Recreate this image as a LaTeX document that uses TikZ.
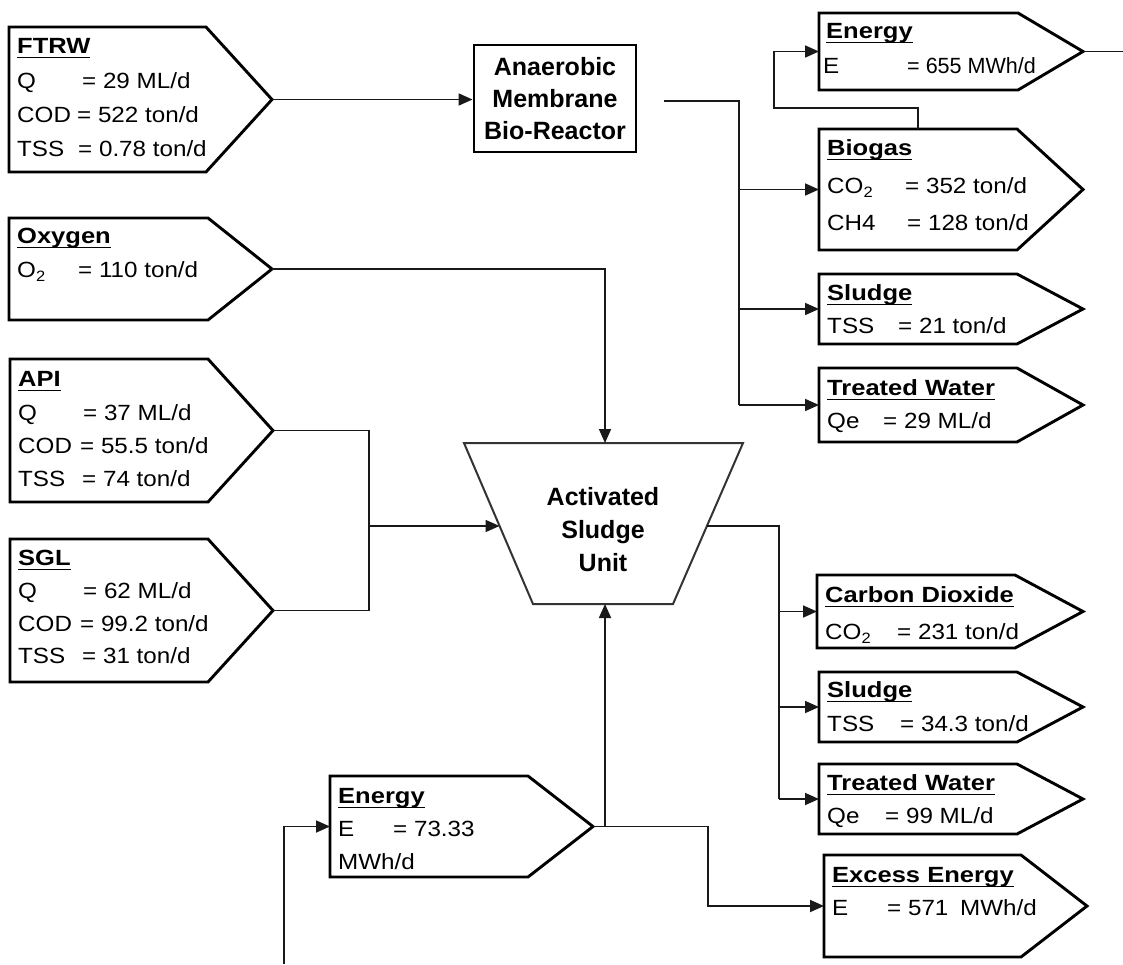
\documentclass[tikz,border=0pt]{standalone}
\usepackage{fontspec}
\usepackage{graphicx}
\setmainfont{Liberation Sans}
\newfontfamily\bodyf[FakeStretch=1.1]{Liberation Sans}
\newfontfamily\titf[FakeStretch=1.16]{Liberation Sans}
\usetikzlibrary{arrows.meta}
\newcommand\ttl[1]{\setbox0\hbox{\titf\bfseries #1}\rlap{\rule[-5pt]{\wd0}{1.5pt}}\box0}
\newcommand\sub[1]{\raisebox{-4pt}{\fontsize{15}{15}\selectfont #1}}
\newcommand\kv[3]{\makebox[#1pt][l]{#2}#3}
\newcommand\flowbox[6]{%
  \draw[boxln] (#2,#3) -- (#4,#3) -- (#5,{(#3+#6)/2}) -- (#4,#6) -- (#2,#6) -- cycle;
  \coordinate (#1-in) at (#2,{(#3+#6)/2});
  \coordinate (#1-tip) at (#5,{(#3+#6)/2});
}
\begin{document}
\begin{tikzpicture}[x=1pt,y=-1pt,
  boxln/.style={line width=2.9pt,line join=miter},
  conn/.style={line width=1.7pt,black!90},
  arr/.style={conn,-{Triangle[length=14pt,width=12pt]}},
  txt/.style={anchor=base west,inner sep=0pt,font=\bodyf\fontsize{22}{26}\selectfont},
  bold/.style={align=center,inner sep=0pt,font=\fontsize{25}{32}\selectfont\bfseries}]
\useasboundingbox (0,0) rectangle (1123,964);

% ---- boxes
\flowbox{ftrw}{9}{27}{206}{272}{172}
\flowbox{oxy}{9}{218}{208}{272}{320}
\flowbox{api}{10}{359}{208}{273}{502}
\flowbox{sgl}{10}{539}{208}{273}{682}
\flowbox{enA}{819}{13}{1018}{1083}{90}
\flowbox{bio}{819}{129}{1017}{1083}{250}
\flowbox{slA}{819}{274}{1017}{1083}{344}
\flowbox{twA}{819}{368}{1017}{1083}{442}
\flowbox{cod}{817}{575}{1015}{1083}{648}
\flowbox{slB}{819}{672}{1017}{1083}{742}
\flowbox{twB}{819}{764}{1017}{1083}{834}
\flowbox{exc}{824}{855}{1021}{1087}{957}
\flowbox{enB}{330}{776}{528}{593}{877}

\node[bold,draw,line width=2.9pt,minimum width=162pt,minimum height=107pt] (amb) at (555,98.5) {Anaerobic\\Membrane\\Bio-Reactor};

\draw[line width=2pt,black!80] (464,443) -- (743,443) -- (673,604) -- (533,604) -- cycle;
\node[bold,font=\fontsize{25}{33}\selectfont\bfseries] (asu) at (603,530) {Activated\\Sludge\\Unit};
\coordinate (asu-top) at (605,443);
\coordinate (asu-left) at (499.5,526);
\coordinate (asu-right) at (707,526);
\coordinate (asu-bot) at (605,604);

% ---- texts
\node[txt] (ftrw-t) at (17,53) {\ttl{FTRW}};
\node[txt] (ftrw-1) at (17,88) {\kv{65}{Q}{= 29 ML/d}};
\node[txt] (ftrw-2) at (17,122) {\kv{60}{COD}{= 522 ton/d}};
\node[txt] (ftrw-3) at (17,156) {\kv{61}{TSS}{= 0.78 ton/d}};

\node[txt] (oxy-t) at (17,243) {\ttl{Oxygen}};
\node[txt] (oxy-1) at (17,277) {\kv{61}{O\sub{2}}{= 110 ton/d}};

\node[txt] (api-t) at (18,386) {\ttl{API}};
\node[txt] (api-1) at (18,420) {\kv{65}{Q}{= 37 ML/d}};
\node[txt] (api-2) at (18,453) {\kv{62}{COD}{= 55.5 ton/d}};
\node[txt] (api-3) at (18,486) {\kv{64}{TSS}{= 74 ton/d}};

\node[txt] (sgl-t) at (18,565) {\ttl{SGL}};
\node[txt] (sgl-1) at (18,598) {\kv{65}{Q}{= 62 ML/d}};
\node[txt] (sgl-2) at (18,631) {\kv{62}{COD}{= 99.2 ton/d}};
\node[txt] (sgl-3) at (18,663) {\kv{64}{TSS}{= 31 ton/d}};

\node[txt] (enA-t) at (826,38) {\ttl{Energy}};
\node[txt] (enA-1) at (823,73) {\kv{84}{E}{\scalebox{0.89}[1]{= 655 MWh/d}}};

\node[txt] (bio-t) at (827,155) {\ttl{Biogas}};
\node[txt] (bio-1) at (827,193) {\kv{78}{CO\sub{2}}{= 352 ton/d}};
\node[txt] (bio-2) at (827,230) {\kv{80}{CH4}{= 128 ton/d}};

\node[txt] (slA-t) at (827,300) {\ttl{Sludge}};
\node[txt] (slA-1) at (827,333) {\kv{71}{TSS}{= 21 ton/d}};

\node[txt] (twA-t) at (827,395) {\ttl{Treated Water}};
\node[txt] (twA-1) at (827,428) {\kv{56}{Qe}{= 29 ML/d}};

\node[txt] (cod-t) at (825,602) {\ttl{Carbon Dioxide}};
\node[txt] (cod-1) at (825,639) {\kv{72}{CO\sub{2}}{= 231 ton/d}};

\node[txt] (slB-t) at (827,697) {\ttl{Sludge}};
\node[txt] (slB-1) at (827,731) {\kv{73}{TSS}{= 34.3 ton/d}};

\node[txt] (twB-t) at (827,790) {\ttl{Treated Water}};
\node[txt] (twB-1) at (827,823) {\kv{58}{Qe}{= 99 ML/d}};

\node[txt] (exc-t) at (832,882) {\ttl{Excess Energy}};
\node[txt] (exc-1) at (832,915) {\kv{55}{E}{= 571\hspace{5pt} MWh/d}};

\node[txt] (enB-t) at (338,803) {\ttl{Energy}};
\node[txt] (enB-1) at (338,836) {\kv{55}{E}{= 73.33}};
\node[txt] (enB-2) at (338,869) {MWh/d};

% ---- connectors
\coordinate (ambout) at (664,101);
\coordinate (busA) at (739,0);
\coordinate (busB) at (369,0);
\coordinate (busC) at (779,0);
\coordinate (busD) at (708,0);
\coordinate (biotop) at (918,129);
\coordinate (enout) at (1123,51.5);
\coordinate (enBsrc) at (284,964);

\draw[arr] (ftrw-tip) -- (ftrw-tip -| amb.west);
\draw[conn] (ambout) -| (busA |- twA-in);
\draw[arr] (busA |- bio-in) -- (bio-in);
\draw[arr] (busA |- slA-in) -- (slA-in);
\draw[arr] (busA |- twA-in) -- (twA-in);

\draw[arr] (biotop) -- ++(0,-21) -| (774,80) |- (enA-in);
\draw[conn] (enA-tip) -- (enout);

\draw[arr] (oxy-tip) -| (asu-top);

\draw[conn] (api-tip) -| (busB |- sgl-tip) -- (sgl-tip);
\draw[arr] (busB |- asu-left) -- (asu-left);

\draw[conn] (asu-right) -| (busC |- twB-in);
\draw[arr] (busC |- cod-in) -- (cod-in);
\draw[arr] (busC |- slB-in) -- (slB-in);
\draw[arr] (busC |- twB-in) -- (twB-in);

\draw[arr] (enB-tip) -- (enB-tip -| busD) |- (exc-in);
\draw[arr] (enB-tip -| asu-bot) -- (asu-bot);
\draw[arr] (enBsrc) |- (enB-in);
\end{tikzpicture}
\end{document}
